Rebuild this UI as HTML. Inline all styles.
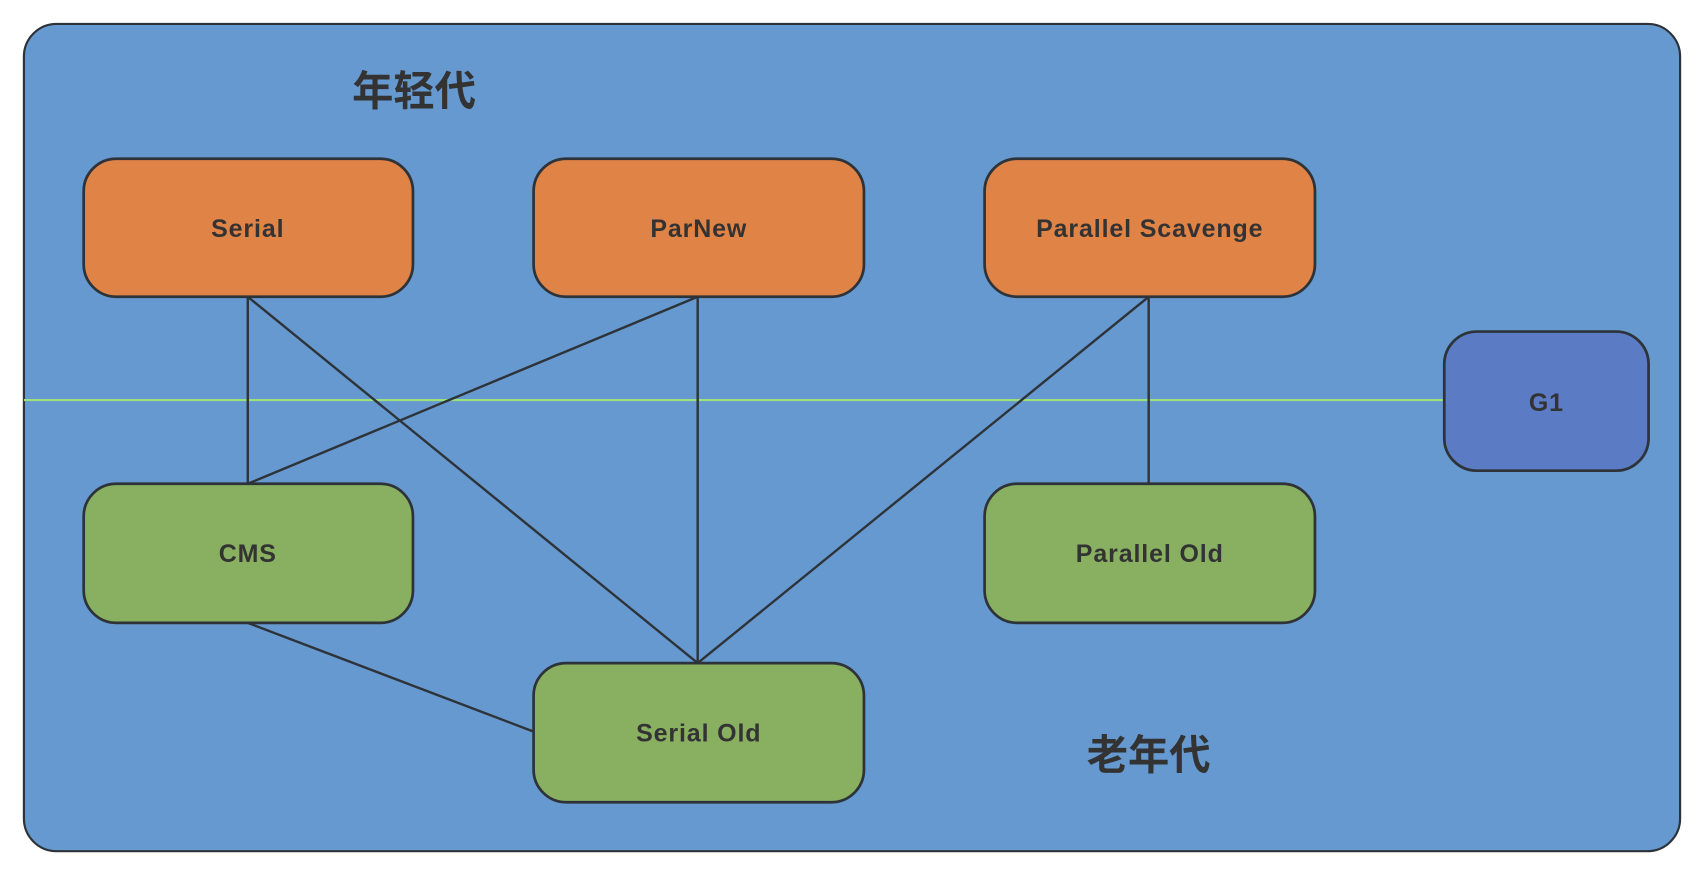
<!DOCTYPE html>
<html><head><meta charset="utf-8"><style>html,body{margin:0;padding:0;background:#fff}svg{display:block}</style></head>
<body>
<svg width="1704" height="874" viewBox="0 0 1568 804" preserveAspectRatio="none" xmlns="http://www.w3.org/2000/svg">
<rect x="22" y="22" width="1524" height="761" rx="30" fill="#6699cf" stroke="#2d3338" stroke-width="2"/>
<line x1="22" y1="368" x2="1329" y2="368" stroke="#9be07a" stroke-width="2"/>
<g stroke="#2d3338" stroke-width="2.2">
<line x1="228" y1="273" x2="228" y2="445"/>
<line x1="228" y1="273" x2="642" y2="610"/>
<line x1="642" y1="273" x2="228" y2="445"/>
<line x1="642" y1="273" x2="642" y2="610"/>
<line x1="1057" y1="273" x2="642" y2="610"/>
<line x1="1057" y1="273" x2="1057" y2="445"/>
<line x1="228" y1="573" x2="491" y2="673"/>
</g>
<g stroke="#2d3338" stroke-width="2.5">
<rect x="77" y="146" width="303" height="127" rx="30" fill="#e08346"/>
<rect x="491" y="146" width="304" height="127" rx="30" fill="#e08346"/>
<rect x="906" y="146" width="304" height="127" rx="30" fill="#e08346"/>
<rect x="77" y="445" width="303" height="128" rx="30" fill="#88b060"/>
<rect x="906" y="445" width="304" height="128" rx="30" fill="#88b060"/>
<rect x="491" y="610" width="304" height="128" rx="30" fill="#88b060"/>
<rect x="1329" y="305" width="188" height="128" rx="30" fill="#5b7bc4"/>
</g>
<g font-family="'Liberation Sans','Noto Sans CJK SC',sans-serif" font-weight="bold" fill="#333" text-anchor="middle" letter-spacing="0.8">
<text x="228" y="218" font-size="23">Serial</text>
<text x="643" y="218" font-size="23">ParNew</text>
<text x="1058" y="218" font-size="23">Parallel Scavenge</text>
<text x="228" y="517" font-size="23">CMS</text>
<text x="1058" y="517" font-size="23">Parallel Old</text>
<text x="643" y="682" font-size="23">Serial Old</text>
<text x="1423" y="378" font-size="23">G1</text>
</g>
<g font-family="'Noto Sans CJK SC',sans-serif" font-weight="bold" fill="#333" text-anchor="middle">
<text x="381" y="97" font-size="38">年轻代</text>
<text x="1057" y="708" font-size="38">老年代</text>
</g>
</svg>
</body></html>
